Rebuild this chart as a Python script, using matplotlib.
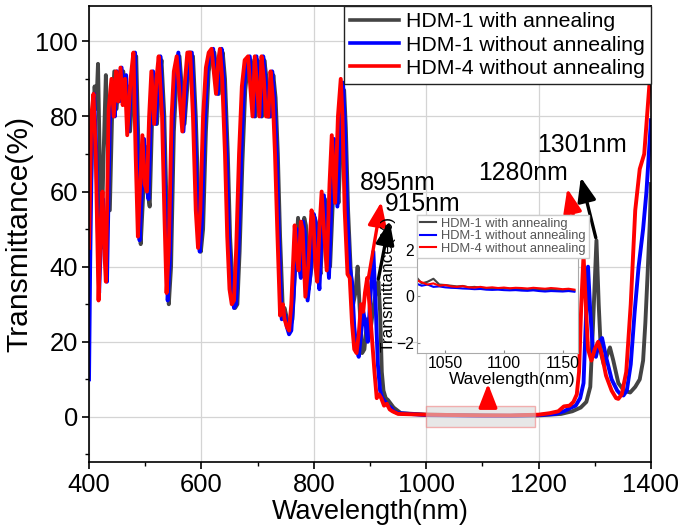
import matplotlib
matplotlib.use("Agg")
import matplotlib.pyplot as plt
from matplotlib import font_manager
from matplotlib.patches import Rectangle
from matplotlib.ticker import MultipleLocator

# transmittance spectra (wavelength nm, T %)
red_wl = [400, 404, 408, 412, 417, 421, 424, 427, 430, 435, 440, 444, 448, 452, 456, 460, 464, 468, 474, 479,
          483, 487, 491, 495, 499, 503, 507, 511, 516, 520, 524, 530, 534, 538, 542, 547, 551, 556, 561, 566,
          570, 575, 580, 585, 590, 594, 598, 603, 608, 613, 618, 622, 626, 630, 633, 637, 642, 646, 650, 654,
          658, 662, 667, 672, 677, 683, 687, 691, 695, 698, 703, 707, 711, 715, 719, 723, 727, 731, 735, 740,
          743, 745, 748, 752, 756, 760, 766, 770, 773, 777, 780, 785, 790, 796, 799, 803, 806, 810, 814, 818,
          823, 828, 832, 835, 838, 843, 848, 851, 855, 860, 864, 868, 872, 876, 880, 884, 888, 891, 895, 899,
          903, 908, 912, 916, 920, 925, 930, 935, 940, 950, 1000, 1050, 1100, 1150, 1200, 1220, 1235, 1245, 1255, 1262,
          1268, 1272, 1276, 1280, 1284, 1288, 1294, 1300, 1306, 1312, 1320, 1330, 1338, 1342, 1348, 1356, 1364, 1372, 1380, 1388,
          1393, 1397, 1400]
red_t = [45, 80, 86, 70, 31, 52, 60, 45, 36, 82, 90, 80, 92, 84, 93, 83, 90, 75, 90, 97,
         70, 48, 62, 75, 62, 60, 80, 92, 78, 90, 96, 80, 55, 33, 45, 80, 92, 96, 86, 76,
         88, 97, 97, 80, 55, 45, 55, 80, 93, 97, 98, 92, 86, 95, 98, 90, 70, 48, 34, 30,
         31, 45, 70, 88, 95, 96, 88, 80, 96, 90, 80, 96, 90, 80, 80, 92, 85, 70, 50, 27,
         29, 30, 26, 24, 23, 30, 51, 42, 39, 52, 50, 32, 40, 55, 53, 40, 36, 50, 60, 50,
         39, 62, 75, 66, 57, 80, 90, 80, 55, 38, 37, 25, 18, 17, 22, 30, 28, 33, 37, 30,
         22, 12, 5, 6, 5, 3, 3.5, 2, 1.5, 0.8, 0.6, 0.5, 0.4, 0.4, 0.6, 1, 1.5, 2.8, 3, 4,
         6, 12, 30, 43, 30, 18, 15, 18, 20, 17, 11, 7, 5, 4.8, 6, 12, 30, 55, 66, 70,
         80, 88, 92]

blue_wl = [400, 402, 405, 409, 413, 418, 422, 425, 428, 432, 437, 442, 446, 450, 454, 458, 462, 466, 470, 476,
           482, 486, 490, 494, 498, 502, 506, 510, 514, 519, 523, 527, 532, 536, 540, 544, 549, 554, 559, 564,
           568, 573, 578, 583, 588, 593, 597, 601, 606, 611, 616, 621, 625, 629, 633, 636, 640, 645, 649, 654,
           658, 662, 666, 671, 676, 681, 686, 690, 694, 698, 701, 706, 710, 714, 718, 722, 726, 730, 734, 738,
           743, 746, 749, 752, 756, 760, 764, 770, 774, 777, 781, 784, 789, 794, 800, 803, 807, 810, 814, 818,
           822, 827, 832, 836, 839, 842, 847, 852, 855, 859, 864, 868, 872, 876, 880, 884, 888, 892, 896, 900,
           906, 910, 914, 918, 922, 927, 932, 937, 942, 950, 1000, 1050, 1100, 1150, 1200, 1230, 1245, 1258, 1266, 1274,
           1280, 1284, 1288, 1292, 1297, 1302, 1308, 1313, 1320, 1330, 1340, 1346, 1351, 1357, 1364, 1371, 1378, 1386, 1392, 1397,
           1400]
blue_t = [10, 40, 72, 86, 70, 33, 50, 58, 46, 36, 78, 88, 80, 92, 84, 93, 84, 91, 76, 90,
          97, 70, 47, 60, 74, 62, 58, 80, 92, 78, 90, 96, 80, 55, 31, 42, 78, 92, 97, 86,
          76, 88, 97, 97, 80, 55, 44, 52, 78, 93, 97, 98, 92, 86, 95, 98, 90, 70, 48, 34,
          29, 30, 44, 70, 88, 95, 96, 88, 80, 96, 90, 80, 96, 90, 80, 80, 92, 85, 70, 48,
          26, 28, 27, 24, 22, 23, 32, 50, 40, 37, 52, 49, 31, 38, 54, 52, 39, 34, 48, 59,
          49, 37, 60, 74, 65, 56, 78, 89, 79, 56, 40, 36, 24, 18, 16, 22, 28, 25, 20, 30,
          44, 30, 14, 7, 5, 4, 3, 2.5, 1.5, 1, 0.5, 0.4, 0.3, 0.3, 0.5, 0.8, 1.5, 2.5, 3, 5,
          9, 25, 40, 28, 17, 16, 20, 21, 16, 10, 7, 6, 5.7, 7, 14, 28, 40, 50, 60, 72,
          79]

black_wl = [400, 403, 406, 410, 413, 416, 419, 422, 426, 430, 433, 437, 441, 445, 449, 453, 457, 461, 465, 469,
            473, 478, 484, 488, 492, 496, 500, 504, 508, 512, 516, 521, 525, 529, 534, 538, 542, 546, 551, 556,
            561, 566, 570, 575, 580, 585, 590, 595, 599, 603, 608, 613, 618, 623, 627, 631, 635, 638, 642, 647,
            651, 656, 660, 664, 668, 673, 678, 683, 688, 692, 696, 700, 703, 708, 712, 716, 720, 724, 728, 732,
            736, 740, 745, 748, 751, 754, 758, 762, 767, 772, 776, 779, 783, 786, 791, 796, 802, 805, 809, 812,
            816, 820, 824, 829, 834, 838, 841, 844, 849, 854, 857, 861, 866, 870, 874, 878, 882, 886, 890, 895,
            900, 905, 910, 915, 918, 921, 924, 928, 932, 937, 942, 948, 955, 1000, 1050, 1100, 1150, 1200, 1240, 1260,
            1275, 1285, 1292, 1297, 1303, 1307, 1311, 1316, 1321, 1327, 1333, 1342, 1352, 1363, 1372, 1380, 1386, 1390, 1394, 1398,
            1400]
black_t = [55, 60, 75, 88, 82, 94, 70, 45, 70, 91, 75, 55, 80, 92, 82, 90, 85, 92, 84, 88,
           76, 88, 96, 72, 46, 58, 72, 60, 56, 78, 91, 78, 89, 95, 80, 56, 30, 40, 76, 91,
           96, 86, 78, 88, 96, 96, 80, 56, 44, 50, 76, 92, 96, 97, 92, 86, 94, 97, 90, 70,
           48, 34, 29, 30, 44, 68, 87, 94, 95, 88, 80, 95, 90, 80, 95, 90, 80, 80, 91, 85,
           70, 48, 28, 29, 27, 25, 24, 26, 40, 53, 44, 40, 53, 51, 34, 40, 53, 51, 42, 38,
           50, 58, 50, 40, 58, 72, 64, 57, 76, 87, 77, 55, 38, 30, 33, 40, 28, 17, 18, 26,
           22, 28, 33, 36, 28, 12, 7, 5, 4.5, 3.5, 2.5, 1.8, 1, 0.6, 0.5, 0.4, 0.3, 0.4, 0.8, 1.5,
           2.5, 4, 8, 25, 47, 30, 17, 14, 16, 18.5, 15, 9, 7, 6.5, 8, 10, 15, 25, 38, 52,
           62]

# zoomed 1000-1200 nm window (inset)
ins_wl = [1025, 1030, 1035, 1040, 1045, 1050, 1055, 1060, 1065, 1070, 1075, 1080, 1085, 1090, 1095, 1100,
          1105, 1110, 1115, 1120, 1125, 1130, 1135, 1140, 1145, 1150, 1155, 1160]
ins_black = [0.85, 0.55, 0.62, 0.75, 0.5, 0.48, 0.45, 0.42, 0.44, 0.38, 0.4, 0.36, 0.35, 0.34, 0.33, 0.35,
             0.32, 0.3, 0.31, 0.29, 0.3, 0.28, 0.27, 0.28, 0.26, 0.25, 0.27, 0.24]
ins_blue = [0.55, 0.45, 0.5, 0.4, 0.42, 0.38, 0.36, 0.35, 0.33, 0.32, 0.3, 0.31, 0.28, 0.27, 0.28, 0.26,
            0.25, 0.26, 0.24, 0.23, 0.25, 0.22, 0.2, 0.22, 0.21, 0.2, 0.22, 0.19]
ins_red = [0.7, 0.6, 0.5, 0.55, 0.45, 0.48, 0.42, 0.4, 0.43, 0.38, 0.37, 0.4, 0.36, 0.38, 0.35, 0.37,
           0.34, 0.36, 0.35, 0.33, 0.36, 0.34, 0.32, 0.35, 0.33, 0.3, 0.32, 0.28]

labels = ["HDM-1 with annealing", "HDM-1 without annealing", "HDM-4 without annealing"]
colors = ["#444444", "#0000ff", "#ff0000"]

# the original picture is stretched vertically, a narrow face gets closer
names = {f.name for f in font_manager.fontManager.ttflist}
if "Liberation Sans Narrow" in names:
    plt.rcParams["font.family"] = "Liberation Sans Narrow"
    k = 1.25
else:
    plt.rcParams["font.family"] = "Liberation Sans"
    k = 1.08

fig = plt.figure(figsize=(6.81, 5.30), dpi=100)
ax = fig.add_axes([0.1307, 0.1283, 0.8252, 0.8604])

for wl, t, c, lab in zip([black_wl, blue_wl, red_wl], [black_t, blue_t, red_t], colors, labels):
    ax.plot(wl, t, color=c, lw=2.8, label=lab, solid_joinstyle="round")

ax.set_xlim(400, 1400)
ax.set_ylim(-12, 109.4)
ax.xaxis.set_major_locator(MultipleLocator(200))
ax.xaxis.set_minor_locator(MultipleLocator(100))
ax.yaxis.set_major_locator(MultipleLocator(20))
ax.yaxis.set_minor_locator(MultipleLocator(10))
ax.grid(True, color="#d4d4d4", lw=0.9)
ax.tick_params(which="major", direction="out", length=5, width=1.2, labelsize=17 * k, pad=3)
ax.tick_params(which="minor", direction="out", length=3, width=1.0)
ax.set_xlabel("Wavelength(nm)", fontsize=18 * k, labelpad=1)
ax.set_ylabel("Transmittance(%)", fontsize=20 * k, labelpad=1)
for s in ax.spines.values():
    s.set_linewidth(1.2)

leg = ax.legend(loc="upper right", borderaxespad=0, fontsize=14.2 * k, handlelength=2.3,
                handletextpad=0.3, labelspacing=0.2, borderpad=0.3, fancybox=False,
                framealpha=1, edgecolor="#222222")
leg.get_frame().set_linewidth(1.0)
for line in leg.get_lines():
    line.set_linewidth(2.6)

# highlighted window and arrow up to the inset
ax.add_patch(Rectangle((1000, -2.7), 193, 5.7, facecolor="#d8d8d8", alpha=0.6,
                       edgecolor="#f08080", lw=1.0, zorder=3))
arw = dict(arrowstyle="-|>,head_width=0.35,head_length=0.9", lw=2.4, mutation_scale=16)
ax.annotate("", xy=(1110, 9.6), xytext=(1110, 3), arrowprops=dict(arw, color="red"), zorder=4)

# peak annotations
ax.annotate("", xy=(921, 58), xytext=(896, 36), arrowprops=dict(arw, color="red"))
ax.annotate("", xy=(936, 53), xytext=(914, 36), arrowprops=dict(arw, color="black"))
ax.annotate("", xy=(1250, 61.5), xytext=(1279, 42), arrowprops=dict(arw, color="red"))
ax.annotate("", xy=(1274, 64.5), xytext=(1303, 47), arrowprops=dict(arw, color="black"))
ax.text(950, 62.3, "895nm", fontsize=16.5 * k, ha="center", va="center")
ax.text(994, 56.8, "915nm", fontsize=16.5 * k, ha="center", va="center")
ax.text(1172, 64.9, "1280nm", fontsize=16.5 * k, ha="center", va="center")
ax.text(1278, 72.4, "1301nm", fontsize=16.5 * k, ha="center", va="center")

# inset
ins = fig.add_axes([0.6123, 0.3340, 0.2364, 0.2604])
for t, c, lab in zip([ins_black, ins_blue, ins_red], colors, labels):
    ins.plot(ins_wl, t, color=c, lw=1.5, label=lab)
ins.set_xlim(1026, 1163)
ins.set_ylim(-2.45, 3.5)
ins.set_xticks([1050, 1100, 1150])
ins.set_yticks([-2, 0, 2])
ins.tick_params(direction="in", length=2, labelsize=10.5 * k, pad=2, color="#888888")
for s in ins.spines.values():
    s.set_color("#aaaaaa")
    s.set_linewidth(0.8)
ins.set_xlabel("Wavelength(nm)", fontsize=11.5 * k)
ins.xaxis.set_label_coords(0.593, -0.14)
ins.set_ylabel("Transmittance(%)", fontsize=11.5 * k)
ins.yaxis.set_label_coords(-0.13, 0.5)
ileg = ins.legend(loc="upper left", borderaxespad=0, fontsize=8.6 * k, handlelength=1.3,
                  handletextpad=0.4, labelspacing=0.05, borderpad=0.2, fancybox=False,
                  framealpha=1, edgecolor="#cccccc")
for txt in ileg.get_texts():
    txt.set_color("#555555")

fig.savefig("out.png", dpi=100)
